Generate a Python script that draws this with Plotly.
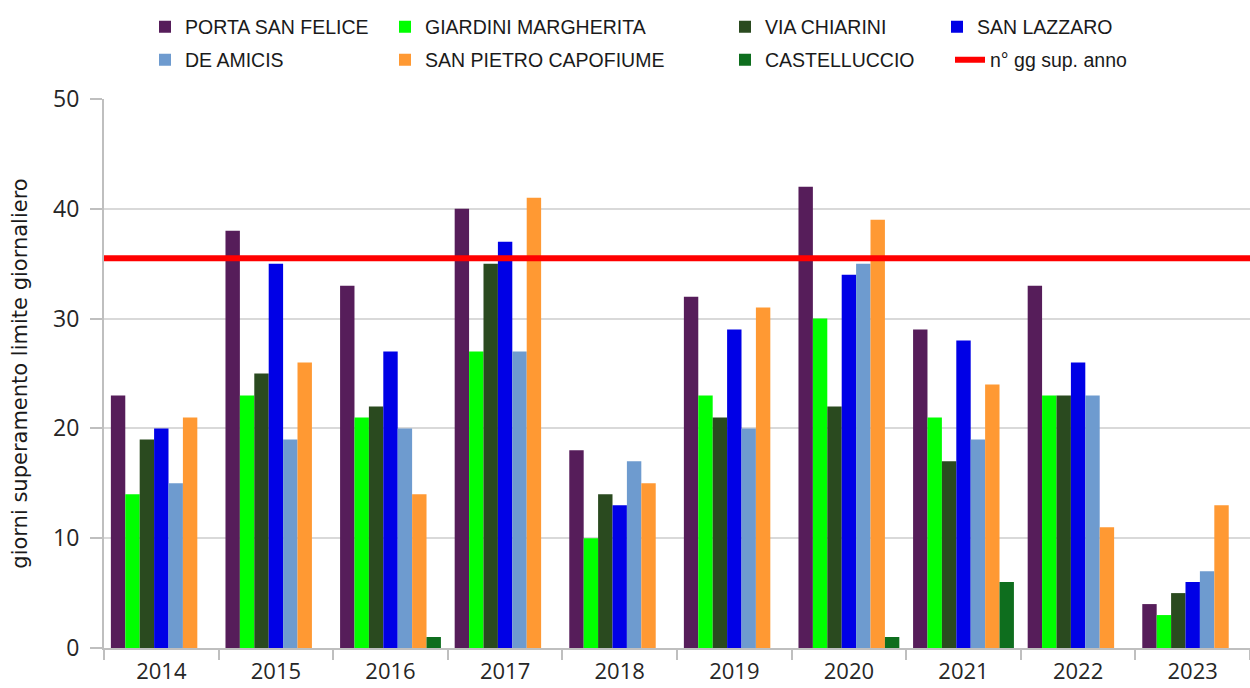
import plotly.graph_objects as go

years = ["2014", "2015", "2016", "2017", "2018", "2019", "2020", "2021", "2022", "2023"]

porta_san_felice = [23, 38, 33, 40, 18, 32, 42, 29, 33, 4]
giardini_margherita = [14, 23, 21, 27, 10, 23, 30, 21, 23, 3]
via_chiarini = [19, 25, 22, 35, 14, 21, 22, 17, 23, 5]
san_lazzaro = [20, 35, 27, 37, 13, 29, 34, 28, 26, 6]
de_amicis = [15, 19, 20, 27, 17, 20, 35, 19, 23, 7]
san_pietro_capofiume = [21, 26, 14, 41, 15, 31, 39, 24, 11, 13]
castelluccio = [None, None, 1, None, None, None, 1, 6, None, None]

limit_days = [35.5, 35.5]
limit_span = [0, 1]

y_ticks = [0, 10, 20, 30, 40, 50]

series = [
    ("PORTA SAN FELICE", porta_san_felice, "#561d5a"),
    ("GIARDINI MARGHERITA", giardini_margherita, "#00ff00"),
    ("VIA CHIARINI", via_chiarini, "#2a4a1f"),
    ("SAN LAZZARO", san_lazzaro, "#0000e6"),
    ("DE AMICIS", de_amicis, "#6e9bcf"),
    ("SAN PIETRO CAPOFIUME", san_pietro_capofiume, "#ff9933"),
    ("CASTELLUCCIO", castelluccio, "#0e6e1e"),
]

legend_ids = ["legend", "legend2", "legend3", "legend4", "legend5", "legend6", "legend7", "legend8"]

fig = go.Figure()
for i, (name, vals, col) in enumerate(series):
    fig.add_trace(go.Bar(
        x=years, y=vals, name=name, marker=dict(color=col, line=dict(width=0)),
        legend=legend_ids[i],
    ))

fig.add_trace(go.Scatter(
    x=limit_span, y=limit_days, mode="lines", name="n° gg sup. anno",
    line=dict(color="#ff0000", width=6), xaxis="x2", yaxis="y",
    legend=legend_ids[7],
))

W, H = 1250, 688
L, T = 104, 99
PW, PH = 1146, 549
R, B = W - L - PW, H - T - PH
legend_font = dict(family="Liberation Sans, Arial, sans-serif", size=19.5, color="#1a1a1a")
col_x = [145, 385, 725, 937]
row_y = [27, 60]
legend_layouts = {}
for i, lid in enumerate(legend_ids):
    r, c = divmod(i, 4)
    lx = col_x[c]
    if i == 7:
        lx = 950
    ly = row_y[r]
    legend_layouts[lid] = dict(
        x=(lx - L) / PW, y=(H - B - ly) / PH,
        xanchor="left", yanchor="middle", orientation="v",
        font=legend_font, bgcolor="rgba(0,0,0,0)", borderwidth=0,
    )

fig.update_layout(
    width=W, height=H,
    margin=dict(l=L, r=R, t=T, b=B, autoexpand=False),
    paper_bgcolor="white", plot_bgcolor="white",
    barmode="group", bargap=0.12, bargroupgap=0,
    showlegend=True,
    xaxis=dict(
        type="category", showgrid=False, showline=True, linecolor="#bfbfbf", linewidth=2,
        ticks="outside", tickson="boundaries", ticklen=10, tickcolor="#bfbfbf", tickwidth=2,
        ticklabelstandoff=3,
        tickfont=dict(family="Open Sans, sans-serif", size=22, color="#262626"),
        zeroline=False, automargin=False,
    ),
    xaxis2=dict(overlaying="x", anchor="y", range=[0, 1], visible=False, automargin=False),
    yaxis=dict(
        range=[0, 50], tickvals=y_ticks, showgrid=True, gridcolor="#d9d9d9", gridwidth=2,
        showline=True, linecolor="#bfbfbf", linewidth=2,
        ticks="outside", ticklen=12, tickcolor="#bfbfbf", tickwidth=2,
        ticklabelstandoff=6,
        tickfont=dict(family="Open Sans, sans-serif", size=23, color="#262626"),
        zeroline=False, automargin=True,
        title=dict(text="giorni superamento limite giornaliero",
                   font=dict(family="DejaVu Sans, sans-serif", size=21, color="#1a1a1a"),
                   standoff=20),
    ),
    **legend_layouts,
)

# remove the browser's default 8px page margin so the figure fills the window exactly
fig.write_html(
    "out.html",
    config={"displayModeBar": False},
    post_script="document.body.style.margin='0';document.body.style.overflow='hidden';",
)
